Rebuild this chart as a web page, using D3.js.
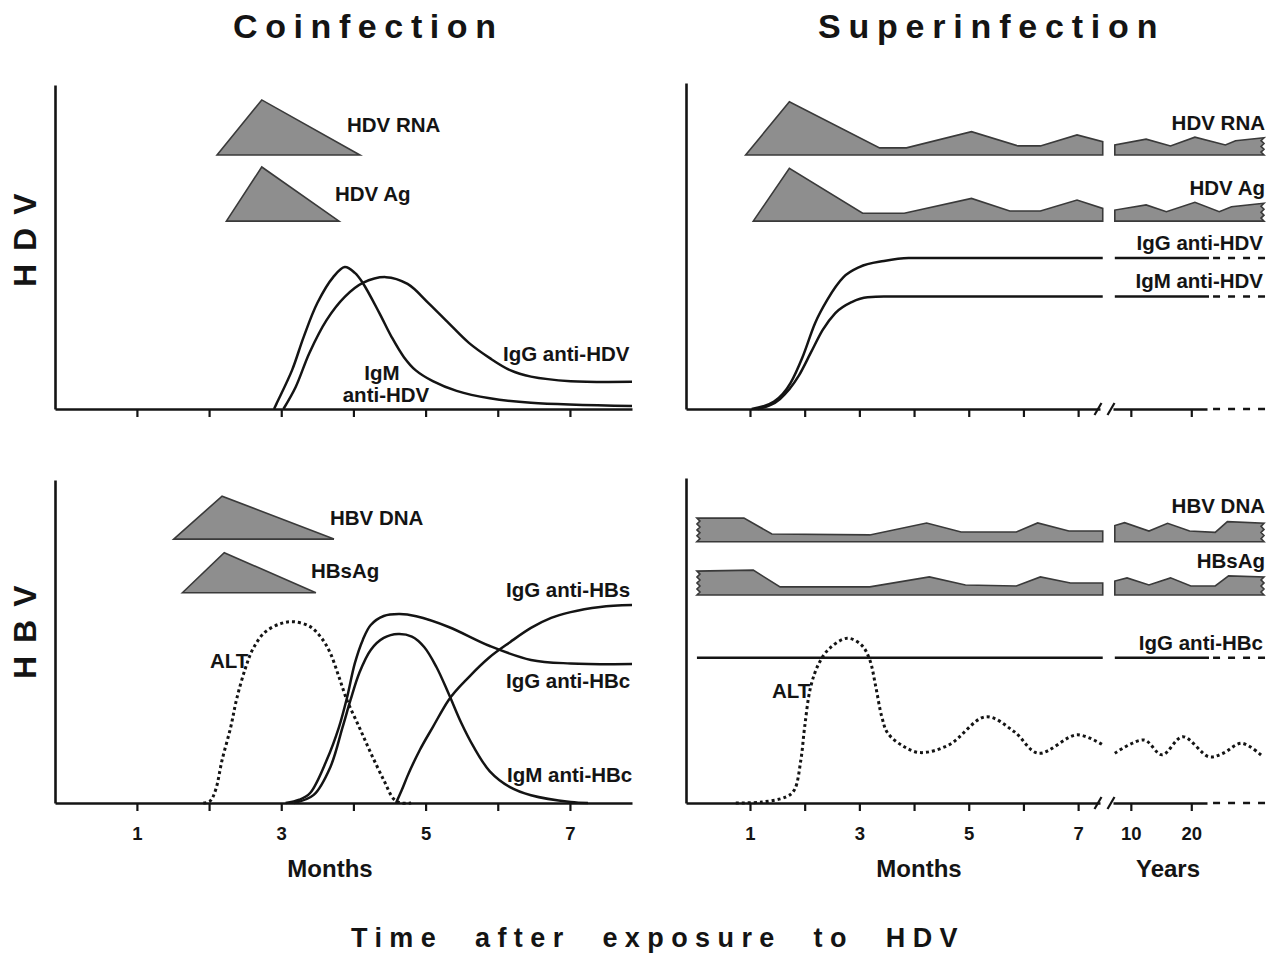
<!DOCTYPE html>
<html>
<head>
<meta charset="utf-8">
<script src="https://cdn.jsdelivr.net/npm/d3@7"></script>
<style>
  body { margin: 0; background: #fff; }
  svg { display: block; font-family: "Liberation Sans", Arial, sans-serif; font-weight: bold; }
</style>
</head>
<body>
<script>
// ---------- axis ticks ----------
const monthTicks = [1, 2, 3, 4, 5, 6, 7];
const monthLabels = [1, 3, 5, 7];
const yearTicks = [10, 20];

// ---------- Coinfection, HDV markers: [month, relative level] ----------
const hdvRnaCo = [[2.11, 78.4], [2.73, 95.4], [4.09, 78.4]];
const hdvAgCo = [[2.24, 58.0], [2.73, 74.7], [3.80, 58.0]];
const igmAntiHdvCo = [[2.90, 0], [2.94, 1.9], [3.15, 12.0], [3.31, 22.2], [3.50, 32.7], [3.72, 40.7],
  [3.88, 43.8], [4.02, 42.0], [4.13, 38.9], [4.36, 29.6], [4.53, 22.2], [4.70, 16.0], [4.86, 12.0],
  [5.10, 8.6], [5.43, 5.6], [5.89, 3.3], [6.46, 1.9], [7.86, 0.9]];
const iggAntiHdvCo = [[3.03, 0], [3.20, 6.8], [3.39, 17.3], [3.63, 27.5], [3.88, 34.6], [4.13, 38.9],
  [4.45, 40.7], [4.75, 38.6], [5.04, 32.7], [5.32, 26.5], [5.60, 20.4], [5.89, 15.7], [6.17, 12.0],
  [6.46, 10.0], [7.01, 8.6], [7.86, 8.4]];

// ---------- Coinfection, HBV markers ----------
const hbvDnaCo = [[1.51, 81.7], [2.18, 95.0], [3.73, 81.7]];
const hbsAgCo = [[1.63, 65.1], [2.21, 77.5], [3.48, 65.1]];
const altCo = [[1.92, 0], [2.01, 0.5], [2.09, 4.0], [2.18, 13.3], [2.30, 23.5], [2.38, 32.0], [2.50, 41.5],
  [2.61, 47.8], [2.77, 52.8], [3.00, 55.6], [3.18, 56.1], [3.40, 54.6], [3.56, 51.0], [3.68, 46.4],
  [3.80, 39.0], [3.91, 31.9], [4.08, 23.5], [4.24, 15.5], [4.42, 7.1], [4.56, 1.2], [4.66, 0], [4.80, 0]];
const iggAntiHbcCo = [[3.06, 0], [3.25, 1.0], [3.40, 3.1], [3.63, 13.3], [3.80, 23.5], [3.91, 32.5],
  [4.02, 43.3], [4.13, 50.5], [4.24, 55.1], [4.42, 57.9], [4.64, 58.5], [4.87, 57.8], [5.32, 54.5],
  [5.89, 48.6], [6.46, 44.3], [7.01, 43.2], [7.86, 43.0]];
const igmAntiHbcCo = [[3.18, 0], [3.45, 2.5], [3.68, 11.1], [3.85, 23.5], [3.96, 31.9], [4.08, 40.2],
  [4.24, 47.4], [4.42, 51.1], [4.62, 52.3], [4.81, 51.5], [4.98, 48.3], [5.15, 42.1], [5.32, 33.8],
  [5.49, 25.0], [5.66, 17.6], [5.89, 9.8], [6.17, 4.9], [6.46, 2.4], [7.01, 0.3], [7.25, 0]];
const iggAntiHbsCo = [[4.59, 0], [4.67, 4.0], [4.75, 8.4], [4.92, 16.4], [5.10, 23.5], [5.32, 31.9],
  [5.60, 39.0], [5.89, 45.2], [6.17, 49.8], [6.46, 54.2], [6.74, 57.3], [7.01, 59.1], [7.42, 60.7],
  [7.86, 61.3]];

// ---------- Superinfection, HDV markers (months, then years) ----------
const hdvRnaSupBase = 78.4;
const hdvRnaSupMonths = [[0.92, 78.4], [1.72, 94.8], [3.37, 80.6], [3.86, 80.6], [5.05, 85.6], [5.90, 81.2],
  [6.31, 81.2], [6.98, 84.6], [7.45, 82.5]];
const hdvRnaSupYears = [[7.35, 81.5], [12.53, 83.3], [16.56, 81.2], [20.6, 83.9], [25.64, 81.5],
  [27.32, 82.8], [32.03, 83.7]];
const hdvAgSupBase = 58.0;
const hdvAgSupMonths = [[1.06, 58.0], [1.72, 74.3], [3.06, 60.4], [3.82, 60.4], [5.05, 65.0], [5.75, 61.1],
  [6.31, 61.1], [6.98, 64.5], [7.45, 61.9]];
const hdvAgSupYears = [[7.35, 61.4], [12.53, 63.0], [15.88, 60.9], [20.6, 63.8], [24.63, 60.9],
  [26.65, 62.4], [32.03, 63.5]];
const iggAntiHdvSupMonths = [[1.03, 0], [1.44, 2.3], [1.74, 8.0], [1.96, 16.0], [2.19, 26.5], [2.41, 33.6],
  [2.71, 40.7], [3.00, 43.8], [3.45, 45.7], [3.90, 46.6], [7.45, 46.6]];
const iggAntiHdvSupYears = [[7.35, 46.6], [22.93, 46.6]];
const iggAntiHdvSupLater = [[23.6, 46.6], [32.2, 46.6]];
const igmAntiHdvSupMonths = [[1.15, 0], [1.55, 3.1], [1.89, 10.2], [2.11, 17.3], [2.33, 24.4], [2.56, 29.6],
  [2.86, 33.0], [3.15, 34.5], [3.45, 34.7], [7.45, 34.7]];
const igmAntiHdvSupYears = [[7.35, 34.7], [22.93, 34.7]];
const igmAntiHdvSupLater = [[23.6, 34.7], [32.2, 34.7]];

// ---------- Superinfection, HBV markers ----------
const hbvDnaSupBase = 80.9;
const hbvDnaSupMonths = [[0.03, 88.2], [0.89, 88.2], [1.40, 83.3], [3.19, 83.0], [4.23, 86.7], [4.86, 83.9],
  [5.87, 83.9], [6.26, 86.7], [6.83, 84.2], [7.45, 84.2]];
const hbvDnaSupYears = [[7.35, 85.9], [8.97, 86.8], [13.0, 84.2], [16.08, 86.6], [19.72, 84.2],
  [23.96, 83.8], [25.97, 87.1], [32.03, 86.6]];
const hbsAgSupBase = 64.4;
const hbsAgSupMonths = [[0.03, 71.8], [1.06, 72.1], [1.55, 66.9], [3.19, 66.9], [4.28, 70.0], [4.94, 67.5],
  [5.87, 67.2], [6.31, 70.0], [6.86, 68.1], [7.45, 68.1]];
const hbsAgSupYears = [[7.35, 68.7], [9.37, 69.7], [13.0, 67.5], [16.56, 69.7], [19.92, 67.2],
  [23.96, 67.2], [26.17, 70.3], [32.03, 70.0]];
const iggAntiHbcSupMonths = [[0.03, 45.0], [7.45, 45.0]];
const iggAntiHbcSupYears = [[7.35, 45.0], [22.93, 45.0]];
const iggAntiHbcSupLater = [[23.6, 45.0], [32.2, 45.0]];
const altSupMonths = [[0.74, 0], [1.22, 0.3], [1.66, 1.9], [1.81, 4.0], [1.93, 13.3], [2.00, 23.6],
  [2.11, 36.0], [2.26, 43.2], [2.45, 47.8], [2.78, 51.0], [3.04, 48.9], [3.19, 44.3], [3.30, 36.0],
  [3.41, 26.7], [3.52, 21.6], [3.82, 17.4], [4.12, 15.6], [4.64, 18.0], [5.31, 26.7], [5.83, 22.1],
  [6.27, 15.4], [6.98, 21.1], [7.45, 18.0]];
const altSupYears = [[7.35, 15.4], [12.18, 19.5], [15.16, 14.9], [18.58, 20.5], [22.93, 14.3],
  [25.25, 15.4], [28.32, 18.5], [31.7, 14.6]];

// ---------- drawing ----------
const W = 1277, H = 955;
const ink = "#141414", gray = "#8e8e8e", edge = "#3a3a3a";
const svg = d3.select("body").append("svg").attr("width", W).attr("height", H);

const xCo = d3.scaleLinear().domain([-0.135, 7.86]).range([55, 632]);
const xSupM = d3.scaleLinear().domain([-0.17, 7.4]).range([686, 1100]);
const xSupY = d3.scaleLinear().domain([7.05, 22.6]).range([1113, 1207]);
const yHdv = d3.scaleLinear().domain([0, 100]).range([409, 85]);
const yHbv = d3.scaleLinear().domain([0, 100]).range([803, 480]);

function styleAxis(g) {
  g.attr("font-size", 18.5).attr("font-family", "'Liberation Sans', Arial, sans-serif").attr("font-weight", "bold");
  g.select(".domain").attr("stroke", ink).attr("stroke-width", 2.6);
  g.selectAll(".tick line").attr("stroke", ink).attr("stroke-width", 2.2);
  g.selectAll(".tick text").attr("fill", ink);
}

function yAxis(x, yScale, top) {
  const s = yScale.copy().range([yScale(0), top]);
  svg.append("g").attr("transform", `translate(${x},0)`)
    .call(d3.axisLeft(s).tickValues([]).tickSizeOuter(0))
    .call(styleAxis);
}

function coAxes(yScale, labelled, top) {
  svg.append("g").attr("transform", `translate(0,${yScale(0)})`)
    .call(d3.axisBottom(xCo).tickValues(monthTicks).tickSize(8).tickSizeOuter(0).tickPadding(16)
      .tickFormat(d => labelled && monthLabels.includes(d) ? d : ""))
    .call(styleAxis);
  yAxis(xCo.range()[0], yScale, top);
}

function supAxes(yScale, labelled, top) {
  const y0 = yScale(0);
  svg.append("g").attr("transform", `translate(0,${y0})`)
    .call(d3.axisBottom(xSupM).tickValues(monthTicks).tickSize(8).tickSizeOuter(0).tickPadding(16)
      .tickFormat(d => labelled && monthLabels.includes(d) ? d : ""))
    .call(styleAxis);
  svg.append("g").attr("transform", `translate(0,${y0})`)
    .call(d3.axisBottom(xSupY).tickValues(yearTicks).tickSize(8).tickSizeOuter(0).tickPadding(16)
      .tickFormat(d => labelled ? d : ""))
    .call(styleAxis);
  // later years continue as a dashed axis
  svg.append("line")
    .attr("x1", xSupY(23.6)).attr("x2", xSupY(32.2)).attr("y1", y0).attr("y2", y0)
    .attr("stroke", ink).attr("stroke-width", 2.6).attr("stroke-dasharray", "7,8");
  // axis break marks
  [xSupM.range()[1] - 2, xSupY.range()[0] - 2].forEach(bx => {
    svg.append("line").attr("x1", bx - 3.5).attr("y1", y0 + 6).attr("x2", bx + 3.5).attr("y2", y0 - 6)
      .attr("stroke", ink).attr("stroke-width", 2.2);
  });
  yAxis(xSupM.range()[0], yScale, top);
}

coAxes(yHdv, false, 85);
coAxes(yHbv, true, 480);
supAxes(yHdv, false, 83);
supAxes(yHbv, true, 478);

// smooth marker curves: bell-shaped ones use Catmull-Rom, rising ones stay monotone
function curve(data, xs, ys, opts) {
  const o = opts || {};
  const shape = o.bell ? d3.curveCatmullRom.alpha(0.5) : d3.curveMonotoneX;
  svg.append("path")
    .attr("d", d3.line().x(d => xs(d[0])).y(d => ys(d[1])).curve(shape)(data))
    .attr("fill", "none").attr("stroke", ink)
    .attr("stroke-width", o.dotted ? 3 : 2.5)
    .attr("stroke-dasharray", o.dotted ? "3,3" : null)
    .attr("stroke-linejoin", "round");
}

function flat(data, xs, ys, dashed) {
  svg.append("path")
    .attr("d", d3.line().x(d => xs(d[0])).y(d => ys(d[1]))(data))
    .attr("fill", "none").attr("stroke", ink).attr("stroke-width", 2.5)
    .attr("stroke-dasharray", dashed ? "7,8" : null);
}

// coinfection triangles
function triangle(data, xs, ys) {
  const base = data[0][1];
  svg.append("path")
    .attr("d", d3.area().x(d => xs(d[0])).y0(ys(base)).y1(d => ys(d[1]))(data))
    .attr("fill", gray).attr("stroke", edge).attr("stroke-width", 1.6).attr("stroke-linejoin", "miter");
}

// zig-zag edge for a profile that is cut off
function zigzag(x, yA, yB, teeth, amp) {
  const n = teeth * 2, pts = [];
  for (let i = 0; i <= n; i++) pts.push([x + (i % 2 ? amp : 0), yA + (yB - yA) * i / n]);
  return pts;
}

function profile(data, xs, ys, base, leftCut, rightCut) {
  const pts = data.map(d => [xs(d[0]), ys(d[1])]);
  const yb = ys(base);
  const first = pts[0], last = pts[pts.length - 1];
  let poly = [];
  if (leftCut === "zig") poly = poly.concat(zigzag(first[0], yb, first[1], 4, 3));
  else if (first[1] !== yb) poly.push([first[0], yb]);
  poly = poly.concat(pts);
  if (rightCut === "zig") poly = poly.concat(zigzag(last[0], last[1], yb, 3, -3));
  else if (last[1] !== yb) poly.push([last[0], yb]);
  svg.append("path")
    .attr("d", d3.line()(poly) + "Z")
    .attr("fill", gray).attr("stroke", edge).attr("stroke-width", 1.6).attr("stroke-linejoin", "miter");
}

// --- Coinfection, HDV
triangle(hdvRnaCo, xCo, yHdv);
triangle(hdvAgCo, xCo, yHdv);
curve(igmAntiHdvCo, xCo, yHdv, { bell: true });
curve(iggAntiHdvCo, xCo, yHdv, { bell: true });

// --- Coinfection, HBV
triangle(hbvDnaCo, xCo, yHbv);
triangle(hbsAgCo, xCo, yHbv);
curve(altCo, xCo, yHbv, { bell: true, dotted: true });
curve(iggAntiHbcCo, xCo, yHbv, { bell: true });
curve(igmAntiHbcCo, xCo, yHbv, { bell: true });
curve(iggAntiHbsCo, xCo, yHbv);

// --- Superinfection, HDV
profile(hdvRnaSupMonths, xSupM, yHdv, hdvRnaSupBase, "none", "cut");
profile(hdvRnaSupYears, xSupY, yHdv, hdvRnaSupBase, "cut", "zig");
profile(hdvAgSupMonths, xSupM, yHdv, hdvAgSupBase, "none", "cut");
profile(hdvAgSupYears, xSupY, yHdv, hdvAgSupBase, "cut", "zig");
curve(iggAntiHdvSupMonths, xSupM, yHdv);
curve(igmAntiHdvSupMonths, xSupM, yHdv);
flat(iggAntiHdvSupYears, xSupY, yHdv);
flat(igmAntiHdvSupYears, xSupY, yHdv);
flat(iggAntiHdvSupLater, xSupY, yHdv, true);
flat(igmAntiHdvSupLater, xSupY, yHdv, true);

// --- Superinfection, HBV
profile(hbvDnaSupMonths, xSupM, yHbv, hbvDnaSupBase, "zig", "cut");
profile(hbvDnaSupYears, xSupY, yHbv, hbvDnaSupBase, "cut", "zig");
profile(hbsAgSupMonths, xSupM, yHbv, hbsAgSupBase, "zig", "cut");
profile(hbsAgSupYears, xSupY, yHbv, hbsAgSupBase, "cut", "zig");
flat(iggAntiHbcSupMonths, xSupM, yHbv);
flat(iggAntiHbcSupYears, xSupY, yHbv);
flat(iggAntiHbcSupLater, xSupY, yHbv, true);
curve(altSupMonths, xSupM, yHbv, { bell: true, dotted: true });
curve(altSupYears, xSupY, yHbv, { bell: true, dotted: true });

// ---------- text ----------
function label(txt, x, y, anchor, size) {
  return svg.append("text").attr("x", x).attr("y", y)
    .attr("text-anchor", anchor || "start")
    .attr("font-size", size || 20.5).attr("fill", ink).text(txt);
}

// marker names
label("HDV RNA", 347, 132);
label("HDV Ag", 335, 201);
label("IgG anti-HDV", 503, 361);
label("IgM", 382, 380, "middle");
label("anti-HDV", 386, 402, "middle");

label("HBV DNA", 330, 525);
label("HBsAg", 311, 578);
label("IgG anti-HBs", 506, 597);
label("IgG anti-HBc", 506, 688);
label("IgM anti-HBc", 507, 782);
label("ALT", 210, 668);

label("HDV RNA", 1265, 130, "end");
label("HDV Ag", 1265, 195, "end");
label("IgG anti-HDV", 1263, 250, "end");
label("IgM anti-HDV", 1263, 288, "end");

label("HBV DNA", 1265, 513, "end");
label("HBsAg", 1265, 568, "end");
label("IgG anti-HBc", 1263, 650, "end");
label("ALT", 772, 698);

// axis titles
label("Months", 330, 877, "middle", 24);
label("Months", 919, 877, "middle", 24);
label("Years", 1168, 877, "middle", 24);

// panel titles
label("Coinfection", 233, 38, "start", 34).attr("letter-spacing", 7.6);
label("Superinfection", 818, 38, "start", 34).attr("letter-spacing", 7.8);

// row titles
svg.append("text").attr("transform", "translate(36,287) rotate(-90)")
  .attr("font-size", 32).attr("letter-spacing", 13).attr("fill", ink).text("HDV");
svg.append("text").attr("transform", "translate(36,679) rotate(-90)")
  .attr("font-size", 32).attr("letter-spacing", 13).attr("fill", ink).text("HBV");

// common time caption
label("Time after exposure to HDV", 351, 947, "start", 27)
  .attr("letter-spacing", 7.4).attr("word-spacing", 17);
</script>
</body>
</html>
